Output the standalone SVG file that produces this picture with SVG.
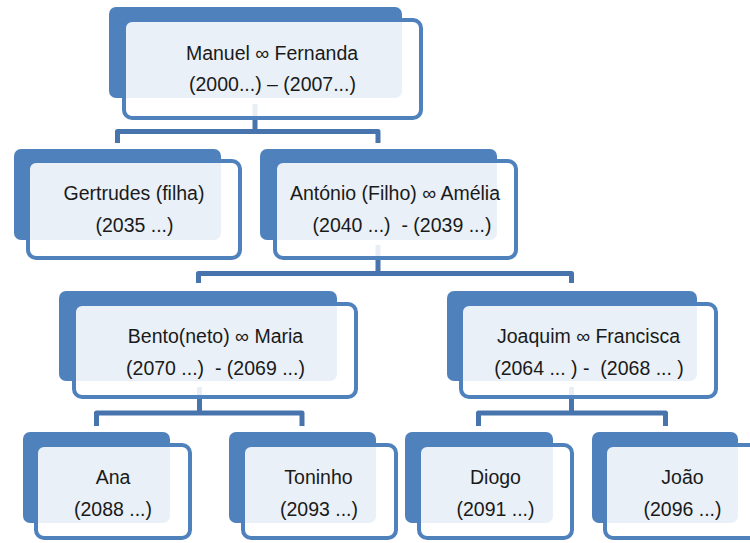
<svg xmlns="http://www.w3.org/2000/svg" width="750" height="543" viewBox="0 0 750 543">
<style>
.back{fill:#4F81BD}
.front{fill:#ffffff;fill-opacity:0.88;stroke:#4F81BD;stroke-width:4}
.conn{fill:none;stroke:#4874AD;stroke-width:5;stroke-linejoin:round}
text{font-family:"Liberation Sans",Arial,sans-serif;font-size:19.5px;fill:#1a1a1a;text-anchor:middle}
</style>
<rect width="750" height="543" fill="#ffffff"/>
<g id="connectors">
<path class="conn" d="M255,104 V131.5 M117.5,143 V131.5 H378 V143"/>
<path class="conn" d="M378,245 V273.5 M198.5,283 V273.5 H571.5 V283"/>
<path class="conn" d="M199.5,387 V413 M96.5,426 V413 H302 V426"/>
<path class="conn" d="M571.5,387 V413 M478.5,426 V413 H665.5 V426"/>
</g>
<g id="n0">
<rect class="back" x="109" y="7" width="293" height="91" rx="7"/>
<rect class="front" x="124" y="20" width="297" height="98" rx="8"/>
<text x="272" y="60">Manuel ∞ Fernanda</text>
<text x="272.5" y="91">(2000...) – (2007...)</text>
</g>
<g id="n1">
<rect class="back" x="14" y="149" width="207" height="91" rx="7"/>
<rect class="front" x="28" y="161" width="212" height="97" rx="8"/>
<text x="134" y="200">Gertrudes (filha)</text>
<text x="134.5" y="232">(2035 ...)</text>
</g>
<g id="n2">
<rect class="back" x="260" y="149" width="237" height="91" rx="7"/>
<rect class="front" x="275" y="161" width="241" height="97" rx="8"/>
<text x="395" y="200">António (Filho) ∞ Amélia</text>
<text x="402" y="232" xml:space="preserve">(2040 ...)  - (2039 ...)</text>
</g>
<g id="n3">
<rect class="back" x="59" y="291" width="278" height="90" rx="7"/>
<rect class="front" x="74" y="304" width="282" height="93" rx="8"/>
<text x="215.5" y="343">Bento(neto) ∞ Maria</text>
<text x="215.5" y="375" xml:space="preserve">(2070 ...)  - (2069 ...)</text>
</g>
<g id="n4">
<rect class="back" x="447" y="291" width="250" height="90" rx="7"/>
<rect class="front" x="461" y="304" width="255" height="93" rx="8"/>
<text x="588.5" y="343">Joaquim ∞ Francisca</text>
<text x="589" y="375" xml:space="preserve">(2064 ... ) -  (2068 ... )</text>
</g>
<g id="n5">
<rect class="back" x="23" y="432" width="147" height="91" rx="7"/>
<rect class="front" x="36" y="445" width="154" height="93" rx="8"/>
<text x="113" y="484">Ana</text>
<text x="113" y="516">(2088 ...)</text>
</g>
<g id="n6">
<rect class="back" x="229" y="432" width="147" height="91" rx="7"/>
<rect class="front" x="243" y="445" width="153" height="93" rx="8"/>
<text x="318.5" y="484">Toninho</text>
<text x="319" y="516">(2093 ...)</text>
</g>
<g id="n7">
<rect class="back" x="405" y="432" width="148" height="91" rx="7"/>
<rect class="front" x="419" y="445" width="153" height="93" rx="8"/>
<text x="495.5" y="484">Diogo</text>
<text x="495.5" y="516">(2091 ...)</text>
</g>
<g id="n8">
<rect class="back" x="592" y="432" width="146" height="91" rx="7"/>
<rect class="front" x="605" y="445" width="153" height="93" rx="8"/>
<text x="682.5" y="484">João</text>
<text x="682.5" y="516">(2096 ...)</text>
</g>
</svg>
